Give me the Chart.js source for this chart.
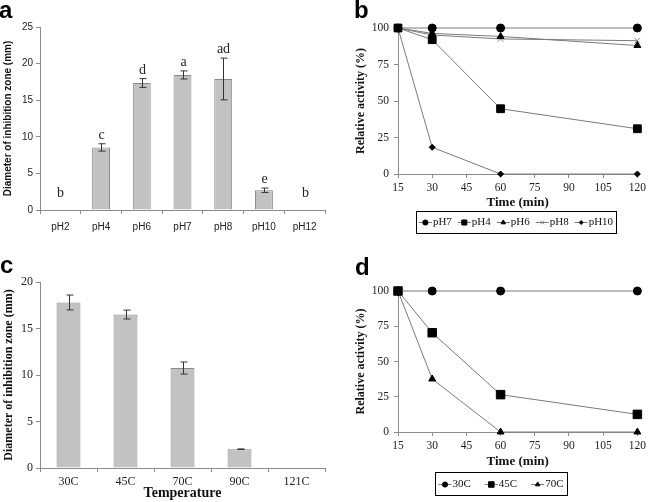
<!DOCTYPE html>
<html>
<head>
<meta charset="utf-8">
<script src="https://cdn.jsdelivr.net/npm/chart.js@4.4.1/dist/chart.umd.min.js"></script>
<style>
  body { margin: 0; background: #fff; }
  #wrap { position: relative; width: 649px; height: 502px; overflow: hidden; background: #fff; }
  canvas { position: absolute; }
  .tag { position: absolute; font: bold 24px "Liberation Sans", Arial, sans-serif; line-height: 24px; color: #000; }
</style>
</head>
<body>
<div id="wrap">
  <canvas id="chartA" width="330" height="250" style="left:0;top:0"></canvas>
  <canvas id="chartB" width="319" height="250" style="left:330px;top:0"></canvas>
  <canvas id="chartC" width="330" height="252" style="left:0;top:250px"></canvas>
  <canvas id="chartD" width="319" height="252" style="left:330px;top:250px"></canvas>
  <div class="tag" style="left:-1px;top:-2px">a</div>
  <div class="tag" style="left:354px;top:-2px">b</div>
  <div class="tag" style="left:0;top:253px">c</div>
  <div class="tag" style="left:355px;top:255px">d</div>
</div>
<script>
// panel a - pH vs inhibition zone
const phLabels = ['pH2', 'pH4', 'pH6', 'pH7', 'pH8', 'pH10', 'pH12'];
const phZone = [0, 8.55, 17.35, 18.45, 17.9, 2.7, 0];
const phZoneErr = [0, 0.5, 0.6, 0.55, 2.85, 0.3, 0];
const phLetters = ['b', 'c', 'd', 'a', 'ad', 'e', 'b'];

// panel c - temperature vs inhibition zone
const tempLabels = ['30C', '45C', '70C', '90C', '121C'];
const tempZone = [17.8, 16.5, 10.75, 2.02, 0];
const tempZoneErr = [0.8, 0.48, 0.65, 0.03, 0];

// panels b and d - relative activity over time
const timeMin = [15, 30, 60, 120];
const actPH7 = [100, 100, 100, 100];
const actPH4 = [100, 92, 44.7, 31];
const actPH6 = [100, 96.3, 94.2, 88];
const actPH8 = [100, 95.2, 92.5, 91.3];
const actPH10 = [100, 18.3, 0, 0];
const act30C = [100, 100, 100, 100];
const act45C = [100, 70.4, 26.5, 12.5];
const act70C = [100, 37.6, 0, 0];

const SANS = '"Liberation Sans", Arial, sans-serif';
const SERIF = '"Liberation Serif", "Times New Roman", serif';
const AXIS = '#8c8c8c';

function makeErrorBars(err, letters, cap) {
  return {
    id: 'errorBars',
    afterDatasetsDraw(chart) {
      const ctx = chart.ctx;
      const y = chart.scales.y;
      const vals = chart.data.datasets[0].data;
      const zero = y.getPixelForValue(0);
      ctx.save();
      ctx.strokeStyle = '#333';
      ctx.lineWidth = 1;
      chart.getDatasetMeta(0).data.forEach((bar, i) => {
        const e = err[i];
        const x = Math.round(bar.x) + 0.5;
        const top = y.getPixelForValue(vals[i] + e);
        if (e) {
          const bot = y.getPixelForValue(vals[i] - e);
          ctx.beginPath();
          ctx.moveTo(x, top); ctx.lineTo(x, bot);
          ctx.moveTo(x - cap, top); ctx.lineTo(x + cap + 1, top);
          ctx.moveTo(x - cap, bot); ctx.lineTo(x + cap + 1, bot);
          ctx.stroke();
        }
        if (letters) {
          ctx.fillStyle = '#222';
          ctx.font = '14px ' + SERIF;
          ctx.textAlign = 'center';
          ctx.textBaseline = 'alphabetic';
          ctx.fillText(letters[i], x, Math.min(top - 5, zero - 13));
        }
      });
      ctx.restore();
    }
  };
}

// framed legend under the time axis: -o-label items
function boxLegend(box) {
  return {
    id: 'boxLegend',
    afterDraw(chart) {
      const ctx = chart.ctx;
      ctx.save();
      ctx.font = '11px ' + SERIF;
      const seg = 13, gap = 1, space = box.space;
      const items = chart.data.datasets.map(ds => ({ ds, w: seg + gap + ctx.measureText(ds.label).width }));
      const total = items.reduce((s, it) => s + it.w, 0) + space * (items.length - 1);
      let x = box.x + (box.w - total) / 2;
      const cy = Math.round(box.y + box.h / 2) + 0.5;
      ctx.strokeStyle = '#000';
      ctx.lineWidth = 1;
      ctx.strokeRect(box.x + 0.5, box.y + 0.5, box.w, box.h);
      items.forEach(({ ds, w }) => {
        ctx.strokeStyle = ds.borderColor;
        ctx.beginPath(); ctx.moveTo(x, cy); ctx.lineTo(x + seg, cy); ctx.stroke();
        ctx.fillStyle = ds.pointBackgroundColor;
        ctx.strokeStyle = ds.pointBorderColor;
        Chart.helpers.drawPoint(ctx, { pointStyle: ds.pointStyle, radius: ds.pointRadius * 0.65, borderWidth: 1, rotation: 0 }, x + seg / 2, cy);
        ctx.fillStyle = '#111';
        ctx.textAlign = 'left';
        ctx.textBaseline = 'middle';
        ctx.fillText(ds.label, x + seg + gap, cy);
        x += w + space;
      });
      ctx.restore();
    }
  };
}

function barChart(id, labels, values, err, letters, opt) {
  return new Chart(document.getElementById(id), {
    type: 'bar',
    data: {
      labels: labels,
      datasets: [{
        data: values,
        backgroundColor: '#c2c2c2',
        borderColor: '#8a8a8a',
        borderWidth: 1,
        barPercentage: opt.barPct,
        categoryPercentage: 1
      }]
    },
    options: {
      responsive: false,
      animation: false,
      layout: { padding: opt.padding },
      plugins: { legend: { display: false }, tooltip: { enabled: false } },
      scales: {
        x: {
          grid: { drawOnChartArea: false, tickLength: 4, color: AXIS, offset: true },
          border: { color: AXIS },
          ticks: { color: '#222', font: opt.xFont, padding: opt.xPad, maxRotation: 0 },
          title: opt.xTitle ? { display: true, text: opt.xTitle, color: '#111', font: { family: SERIF, size: 14, weight: 'bold' }, padding: 0 } : { display: false },
          afterFit: s => { s.height = opt.xHeight; }
        },
        y: {
          min: 0, max: opt.yMax,
          grid: { drawOnChartArea: false, tickLength: 4, color: AXIS },
          border: { color: AXIS },
          ticks: { stepSize: 5, color: '#222', font: opt.yFont, padding: opt.yPad },
          title: { display: true, text: 'Diameter of inhibition zone (mm)', color: '#111', font: opt.yTitleFont, padding: { top: 2, bottom: 0 } },
          afterFit: s => { s.width = 40; }
        }
      }
    },
    plugins: [makeErrorBars(err, letters, opt.cap)]
  });
}

function lineDs(label, values, style, radius, color) {
  return {
    label: label,
    data: timeMin.map((t, i) => ({ x: t, y: values[i] })),
    borderColor: '#7a7a7a',
    borderWidth: 1,
    pointStyle: style,
    pointRadius: radius,
    pointBackgroundColor: color,
    pointBorderColor: color,
    pointBorderWidth: 1,
    tension: 0,
    clip: false
  };
}

function lineChart(id, datasets, opt) {
  return new Chart(document.getElementById(id), {
    type: 'line',
    data: { datasets: datasets },
    options: {
      responsive: false,
      animation: false,
      layout: { padding: opt.padding },
      plugins: { legend: { display: false }, tooltip: { enabled: false } },
      scales: {
        x: {
          type: 'linear', min: 15, max: 120,
          grid: { drawOnChartArea: false, tickLength: 4, color: AXIS },
          border: { color: AXIS },
          ticks: { stepSize: 15, color: '#222', font: { family: SERIF, size: 11.5 }, padding: 3 },
          title: { display: true, text: 'Time (min)', color: '#111', font: { family: SERIF, size: 13, weight: 'bold' }, padding: 0 },
          afterFit: s => { s.height = opt.xHeight; }
        },
        y: {
          min: 0, max: 100,
          grid: { drawOnChartArea: false, tickLength: 4, color: AXIS },
          border: { color: AXIS },
          ticks: { stepSize: 25, color: '#222', font: { family: SERIF, size: 11.5 }, padding: 5 },
          title: { display: true, text: 'Relative activity (%)', color: '#111', font: { family: SERIF, size: 12, weight: 'bold' }, padding: { top: 4, bottom: 0 } },
          afterFit: s => { s.width = 48; }
        }
      }
    },
    plugins: [boxLegend(opt.legendBox)]
  });
}

barChart('chartA', phLabels, phZone, phZoneErr, phLetters, {
  barPct: 0.44, yMax: 25, cap: 3, xHeight: 40, xPad: 7,
  padding: { left: 0, top: 27, right: 5, bottom: 0 },
  xFont: { family: SANS, size: 10 }, yFont: { family: SANS, size: 10 },
  yTitleFont: { family: SANS, size: 10, weight: 'bold' }
});

barChart('chartC', tempLabels, tempZone, tempZoneErr, null, {
  barPct: 0.42, yMax: 20, cap: 3, xHeight: 34, xPad: 3, xTitle: 'Temperature',
  padding: { left: 0, top: 32, right: 5, bottom: 0 },
  xFont: { family: SERIF, size: 12 }, yFont: { family: SERIF, size: 12 },
  yTitleFont: { family: SERIF, size: 12, weight: 'bold' }
});

lineChart('chartB', [
  lineDs('pH7', actPH7, 'circle', 4, '#000'),
  lineDs('pH4', actPH4, 'rect', 5.5, '#000'),
  lineDs('pH6', actPH6, 'triangle', 4, '#000'),
  lineDs('pH8', actPH8, 'crossRot', 4, '#888'),
  lineDs('pH10', actPH10, 'rectRot', 3, '#000')
], {
  padding: { left: 20, top: 28, right: 8, bottom: 40 },
  xHeight: 36,
  legendBox: { x: 86, y: 211, w: 200, h: 22, space: 6 }
});

lineChart('chartD', [
  lineDs('30C', act30C, 'circle', 4, '#000'),
  lineDs('45C', act45C, 'rect', 6, '#000'),
  lineDs('70C', act70C, 'triangle', 4, '#000')
], {
  padding: { left: 20, top: 41, right: 9, bottom: 33 },
  xHeight: 37,
  legendBox: { x: 105, y: 222, w: 132, h: 23, space: 14 }
});
</script>
</body>
</html>
